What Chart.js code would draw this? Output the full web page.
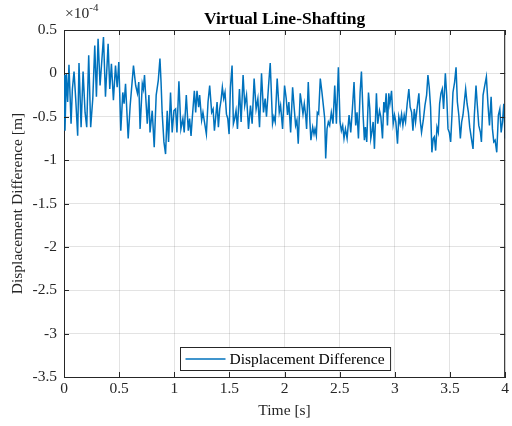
<!DOCTYPE html>
<html>
<head>
<meta charset="utf-8">
<script src="https://cdn.jsdelivr.net/npm/chart.js@4/dist/chart.umd.min.js"></script>
<style>
html, body { margin: 0; padding: 0; background: #fff; }
#wadah { width: 512px; height: 426px; }
</style>
</head>
<body>
<div id="wadah"><canvas id="grafik" width="512" height="426"></canvas></div>
<script>
// data (puncak & lembah), nilai dalam satuan 1e-4 m
const waktuDetik = [
    0.000,0.009,0.021,0.033,0.045,0.064,0.076,0.091,0.106,0.124,0.136,0.155,0.173,0.191,0.206,0.224,0.242,0.261,0.279,0.294,
    0.309,0.327,0.358,0.376,0.400,0.415,0.430,0.448,0.467,0.482,0.497,0.515,0.533,0.545,0.558,0.582,0.600,0.630,0.650,0.666,
    0.678,0.690,0.710,0.720,0.730,0.755,0.770,0.780,0.800,0.818,0.836,0.855,0.870,0.880,0.890,0.906,0.921,0.936,0.948,0.966,
    0.981,0.997,1.012,1.024,1.042,1.060,1.078,1.090,1.109,1.127,1.139,1.152,1.164,1.182,1.194,1.206,1.221,1.230,1.248,1.260,
    1.276,1.291,1.306,1.321,1.339,1.352,1.364,1.376,1.388,1.400,1.412,1.424,1.436,1.448,1.460,1.473,1.485,1.497,1.509,1.524,
    1.536,1.548,1.560,1.573,1.591,1.606,1.624,1.639,1.655,1.673,1.691,1.706,1.724,1.742,1.758,1.773,1.791,1.809,1.824,1.836,
    1.855,1.870,1.891,1.903,1.915,1.933,1.952,1.964,1.982,2.000,2.015,2.027,2.039,2.055,2.073,2.088,2.100,2.112,2.124,2.142,
    2.155,2.167,2.179,2.191,2.200,2.215,2.230,2.239,2.255,2.267,2.276,2.288,2.297,2.309,2.324,2.339,2.355,2.364,2.373,2.385,
    2.397,2.409,2.424,2.439,2.455,2.470,2.488,2.503,2.515,2.527,2.539,2.552,2.567,2.585,2.600,2.615,2.630,2.645,2.657,2.670,
    2.685,2.697,2.712,2.724,2.733,2.745,2.761,2.773,2.782,2.794,2.803,2.815,2.833,2.845,2.861,2.873,2.888,2.900,2.909,2.921,
    2.933,2.945,2.955,2.970,2.985,2.997,3.009,3.024,3.036,3.048,3.061,3.073,3.085,3.097,3.112,3.127,3.139,3.152,3.164,3.176,
    3.188,3.203,3.218,3.230,3.242,3.258,3.273,3.288,3.300,3.312,3.324,3.336,3.348,3.358,3.370,3.382,3.394,3.406,3.418,3.430,
    3.442,3.458,3.470,3.482,3.494,3.506,3.518,3.527,3.542,3.555,3.567,3.580,3.594,3.606,3.618,3.633,3.642,3.655,3.667,3.679,
    3.694,3.709,3.721,3.736,3.748,3.761,3.776,3.785,3.800,3.815,3.830,3.845,3.858,3.873,3.885,3.897,3.909,3.924,3.939,3.952,
    3.964,3.976,3.988,4.000
];
const selisihE4 = [
    -0.02,-0.66,0.00,-0.33,0.10,-0.58,-0.18,0.02,-0.29,-0.72,0.12,-0.62,0.02,-0.45,-0.62,0.21,-0.62,-0.29,0.32,-0.27,
    0.40,-0.14,0.42,-0.27,0.34,-0.18,0.11,-0.31,0.09,-0.16,0.13,-0.66,-0.22,-0.35,-0.12,-0.75,-0.37,0.09,-0.14,-0.23,
    -0.10,-0.64,-0.12,-0.18,-0.02,-0.58,-0.25,-0.68,-0.43,-0.85,-0.25,-0.08,0.17,-0.10,-0.45,-0.79,-0.93,-0.43,-0.79,-0.22,
    -0.68,-0.43,-0.41,-0.68,-0.09,-0.64,-0.52,-0.68,-0.25,-0.66,-0.52,-0.72,-0.50,-0.20,-0.45,-0.20,-0.39,-0.25,-0.54,-0.45,
    -0.58,-0.70,-0.33,-0.14,-0.45,-0.41,-0.66,-0.50,-0.33,-0.62,-0.41,-0.31,-0.16,-0.29,-0.22,-0.47,-0.52,-0.70,-0.16,0.09,
    -0.58,-0.52,-0.43,-0.64,-0.18,-0.56,-0.02,-0.37,-0.25,-0.64,-0.37,-0.58,-0.06,-0.41,-0.29,-0.62,0.00,-0.45,-0.29,-0.50,
    -0.14,0.12,-0.58,-0.50,-0.56,-0.06,-0.45,-0.37,-0.64,-0.14,-0.29,-0.48,-0.33,-0.68,-0.16,-0.41,-0.60,-0.54,-0.81,-0.23,
    -0.35,-0.47,-0.35,-0.48,-0.64,-0.10,-0.56,-0.77,-0.62,-0.70,-0.64,-0.72,-0.45,-0.47,-0.06,-0.22,-0.41,-0.52,-0.98,-0.64,
    -0.56,-0.60,-0.45,-0.58,-0.14,-0.58,0.07,-0.56,-0.66,-0.60,-0.75,-0.64,-0.75,-0.48,-0.68,-0.41,-0.10,-0.60,-0.45,-0.75,
    -0.22,0.02,-0.48,-0.77,-0.62,-0.79,-0.22,-0.41,-0.75,-0.66,-0.56,-0.87,-0.23,-0.58,-0.43,-0.50,-0.75,-0.33,-0.45,-0.23,
    -0.60,-0.23,-0.35,-0.20,-0.58,-0.48,-0.56,-0.81,-0.50,-0.58,-0.47,-0.60,-0.48,-0.56,-0.35,-0.18,-0.39,-0.45,-0.66,-0.41,
    -0.56,-0.39,-0.23,-0.54,-0.68,-0.54,-0.37,-0.25,-0.02,-0.16,-0.39,-0.91,-0.75,-0.73,-0.89,-0.62,-0.68,-0.35,-0.23,-0.18,
    -0.41,0.00,-0.25,-0.64,-0.68,-0.79,-0.48,-0.22,-0.10,0.07,-0.33,-0.48,-0.75,-0.56,-0.48,-0.29,-0.18,-0.35,-0.45,-0.62,
    -0.75,-0.87,-0.48,-0.14,-0.37,-0.60,-0.68,-0.79,-0.25,-0.14,-0.04,-0.37,-0.60,-0.27,-0.64,-0.79,-0.77,-0.91,-0.48,-0.41,
    -0.68,-0.56,-0.35,-0.75
];
const tickWaktu = [0, 0.5, 1, 1.5, 2, 2.5, 3, 3.5, 4];
const tickSelisih = [0.5, 0, -0.5, -1, -1.5, -2, -2.5, -3, -3.5];

const judul = 'Virtual Line-Shafting';
const labelSeri = 'Displacement Difference';
const warnaGaris = '#0072BD';
const warnaSumbu = '#262626';
const hurufSerif = "'Liberation Serif', 'Times New Roman', serif";

const titikData = waktuDetik.map((t, i) => ({ x: t, y: selisihE4[i] }));

// bingkai atas/kanan, tick ke dalam, judul, pengali, legenda
const hiasan = {
    id: 'hiasan',
    afterDraw(chart) {
        const { ctx, chartArea: a, scales: { x, y } } = chart;
        ctx.save();
        ctx.strokeStyle = warnaSumbu; ctx.lineWidth = 1;
        ctx.beginPath();
        ctx.moveTo(a.left, a.top + 0.5); ctx.lineTo(a.right, a.top + 0.5);
        ctx.moveTo(a.right - 0.5, a.top); ctx.lineTo(a.right - 0.5, a.bottom);
        x.ticks.forEach(t => {
            const px = Math.round(x.getPixelForValue(t.value)) + 0.5;
            ctx.moveTo(px, a.bottom); ctx.lineTo(px, a.bottom - 5);
            ctx.moveTo(px, a.top); ctx.lineTo(px, a.top + 5);
        });
        y.ticks.forEach(t => {
            const py = Math.round(y.getPixelForValue(t.value)) + 0.5;
            ctx.moveTo(a.left, py); ctx.lineTo(a.left + 5, py);
            ctx.moveTo(a.right, py); ctx.lineTo(a.right - 5, py);
        });
        ctx.stroke();

        ctx.fillStyle = '#000';
        ctx.font = `bold 17.5px ${hurufSerif}`;
        ctx.textAlign = 'center'; ctx.textBaseline = 'alphabetic';
        ctx.fillText(judul, (a.left + a.right) / 2, 24);

        ctx.fillStyle = warnaSumbu;
        ctx.textAlign = 'left';
        ctx.font = `15.5px ${hurufSerif}`;
        ctx.fillText('\u00d710', a.left + 1, 18);
        const lebarPengali = ctx.measureText('\u00d710').width;
        ctx.font = `11px ${hurufSerif}`;
        ctx.fillText('-4', a.left + 1 + lebarPengali, 11);

        ctx.font = `15.5px ${hurufSerif}`;
        const lebarTeks = ctx.measureText(labelSeri).width;
        const lebarKotak = 5 + 40 + 4 + lebarTeks + 6;
        const kiri = Math.round((a.left + a.right) / 2 - lebarKotak / 2) + 0.5;
        const atas = Math.round(a.bottom - 30) + 0.5;
        ctx.fillStyle = '#fff';
        ctx.fillRect(kiri, atas, lebarKotak, 23);
        ctx.strokeStyle = warnaSumbu;
        ctx.strokeRect(kiri, atas, lebarKotak, 23);
        ctx.strokeStyle = warnaGaris; ctx.lineWidth = 1.5;
        ctx.beginPath();
        ctx.moveTo(kiri + 5, atas + 11.5); ctx.lineTo(kiri + 45, atas + 11.5);
        ctx.stroke();
        ctx.fillStyle = '#000';
        ctx.textBaseline = 'middle';
        ctx.fillText(labelSeri, kiri + 49, atas + 12.5);
        ctx.restore();
    }
};

const formatAngka = v => String(Math.round(v * 100) / 100);

new Chart(document.getElementById('grafik').getContext('2d'), {
    type: 'line',
    data: {
        datasets: [{
            label: labelSeri, data: titikData,
            borderColor: warnaGaris, borderWidth: 1.5,
            pointRadius: 0, tension: 0, fill: false
        }]
    },
    options: {
        responsive: false, animation: false, devicePixelRatio: 1,
        layout: { padding: { top: 30, right: 6, left: 0, bottom: 0 } },
        plugins: { legend: { display: false }, tooltip: { enabled: false } },
        scales: {
            x: {
                type: 'linear', min: tickWaktu[0], max: tickWaktu[tickWaktu.length - 1],
                afterBuildTicks: s => { s.ticks = tickWaktu.map(v => ({ value: v })); },
                afterFit: s => { s.height = 49; },
                ticks: { padding: 3, color: warnaSumbu, font: { family: hurufSerif, size: 15.5 }, maxRotation: 0, callback: formatAngka },
                grid: { color: 'rgba(38,38,38,0.13)', drawTicks: false },
                border: { color: warnaSumbu, width: 1 },
                title: { display: true, text: 'Time [s]', color: warnaSumbu, font: { family: hurufSerif, size: 15.5 }, padding: { top: 0, bottom: 6 } }
            },
            y: {
                type: 'linear', min: tickSelisih[tickSelisih.length - 1], max: tickSelisih[0],
                afterBuildTicks: s => { s.ticks = tickSelisih.slice().reverse().map(v => ({ value: v })); },
                afterFit: s => { s.width = 64; },
                ticks: { padding: 7, color: warnaSumbu, font: { family: hurufSerif, size: 15.5 }, callback: formatAngka },
                grid: { color: 'rgba(38,38,38,0.13)', drawTicks: false },
                border: { color: warnaSumbu, width: 1 },
                title: { display: true, text: 'Displacement Difference [m]', color: warnaSumbu, font: { family: hurufSerif, size: 15.5 }, padding: { top: 9, bottom: 0 } }
            }
        }
    },
    plugins: [hiasan]
});
</script>
</body>
</html>
